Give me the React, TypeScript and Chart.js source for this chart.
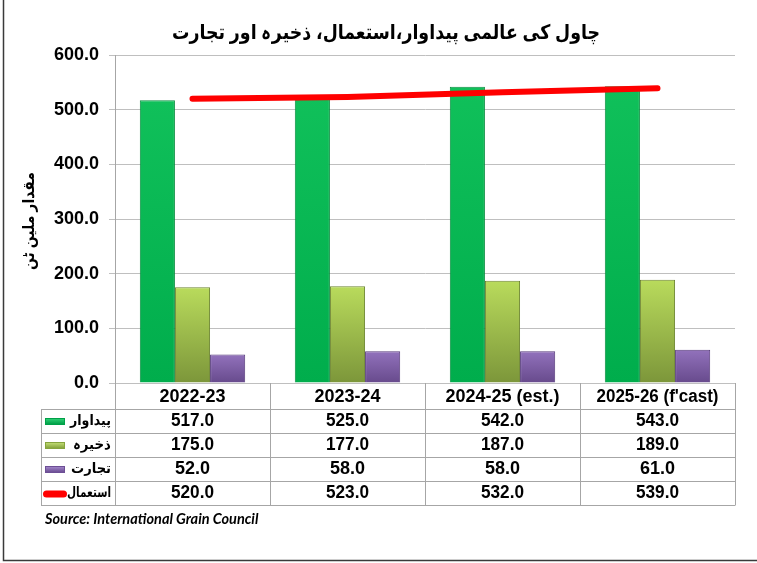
import React, { useEffect, useRef } from "react";
import { Chart, registerables } from "chart.js";

Chart.register(...registerables);

const title = "چاول کی عالمی پیداوار،استعمال، ذخیرہ اور تجارت";
const yTitle = "مقدار ملین ٹن";
const source = "Source: International Grain Council";
const categories = ["2022-23", "2023-24", "2024-25 (est.)", "2025-26 (f'cast)"];
const seriesNames = ["پیداوار", "ذخیرہ", "تجارت", "استعمال"];
const production = [517, 525, 542, 543];
const stocks = [175, 177, 187, 189];
const trade = [52, 58, 58, 61];
const consumption = [520, 523, 532, 539];

const FONT = "Arial, 'Liberation Sans', 'DejaVu Sans', sans-serif";
const URDU = "Arial, 'DejaVu Sans', sans-serif";

function barGradient(top: string, bottom: string) {
  return (ctx: any) => {
    const chart = ctx.chart;
    const area = chart.chartArea;
    if (!area || ctx.type !== "data") return bottom;
    const y = chart.scales.y;
    const v = ctx.parsed ? ctx.parsed.y : 0;
    const y0 = y.getPixelForValue(v);
    const y1 = y.getPixelForValue(0);
    if (!isFinite(y0) || !isFinite(y1) || y0 === y1) return bottom;
    const g = chart.ctx.createLinearGradient(0, y0, 0, y1);
    g.addColorStop(0, top);
    g.addColorStop(1, bottom);
    return g;
  };
}

const tablePlugin = {
  id: "tablePlugin",
  afterDraw(chart: any) {
    const { ctx } = chart;
    const x = chart.scales.x;
    const area = chart.chartArea;
    const left = area.left;
    const right = area.right;
    const tableLeft = 41;
    const rowLines = [409, 433, 457, 481, 505];
    const rowCenters = [421, 445, 469, 493];
    const headerCenter = 397;
    const n = categories.length;
    const colW = (right - left) / n;
    ctx.save();

    // title
    ctx.fillStyle = "#000";
    ctx.textAlign = "center";
    ctx.textBaseline = "middle";
    ctx.font = "bold 20px " + URDU;
    ctx.fillText(title, 386, 33, 428);

    // y title
    ctx.save();
    ctx.translate(30, 221);
    ctx.rotate(-Math.PI / 2);
    ctx.font = "bold 16px " + URDU;
    ctx.fillText(yTitle, 0, 0, 98);
    ctx.restore();

    // table lines
    ctx.strokeStyle = "#a6a6a6";
    ctx.lineWidth = 1;
    ctx.beginPath();
    for (const ly of rowLines) {
      ctx.moveTo(tableLeft, ly + 0.5);
      ctx.lineTo(right, ly + 0.5);
    }
    for (let i = 0; i <= n; i++) {
      const lx = Math.round(left + colW * i) + 0.5;
      ctx.moveTo(lx, area.bottom);
      ctx.lineTo(lx, rowLines[rowLines.length - 1] + 0.5);
    }
    ctx.moveTo(tableLeft + 0.5, rowLines[0]);
    ctx.lineTo(tableLeft + 0.5, rowLines[rowLines.length - 1] + 0.5);
    ctx.stroke();

    // header labels
    ctx.fillStyle = "#000";
    ctx.font = "bold 18px " + FONT;
    categories.forEach((c, i) => {
      ctx.fillText(c, x.getPixelForValue(i), headerCenter, 122);
    });

    // rows
    const rows = [production, stocks, trade, consumption];
    rows.forEach((vals, r) => {
      ctx.font = "bold 18px " + FONT;
      ctx.textAlign = "center";
      vals.forEach((v, i) => {
        ctx.fillText(v.toFixed(1), x.getPixelForValue(i), rowCenters[r], 43);
      });
    });

    // legend keys
    const keyColors = [
      ["#35d67a", "#00a048"],
      ["#c8e37a", "#86a43e"],
      ["#a88cd0", "#6d4f95"],
    ];
    for (let r = 0; r < 3; r++) {
      const cy = rowCenters[r];
      const g = ctx.createLinearGradient(0, cy - 3, 0, cy + 3);
      g.addColorStop(0, keyColors[r][0]);
      g.addColorStop(1, keyColors[r][1]);
      ctx.fillStyle = g;
      ctx.fillRect(45, cy - 3, 20, 7);
      ctx.strokeStyle = keyColors[r][1];
      ctx.strokeRect(45.5, cy - 2.5, 19, 6);
    }
    ctx.strokeStyle = "#ff0000";
    ctx.lineWidth = 7;
    ctx.lineCap = "round";
    ctx.beginPath();
    ctx.moveTo(46.5, rowCenters[3] + 1);
    ctx.lineTo(63.5, rowCenters[3] + 1);
    ctx.stroke();

    ctx.fillStyle = "#000";
    ctx.textAlign = "right";
    ctx.font = "bold 14px " + URDU;
    const maxW = [41, 38, 40, 44];
    seriesNames.forEach((s, r) => {
      ctx.fillText(s, 111, rowCenters[r], maxW[r]);
    });

    // source
    ctx.textAlign = "left";
    ctx.font = "italic bold 14.5px Lato, 'Open Sans', sans-serif";
    ctx.fillText(source, 45, 519);

    // outer border
    ctx.strokeStyle = "#3a3a3a";
    ctx.lineWidth = 1.5;
    ctx.lineCap = "butt";
    ctx.beginPath();
    ctx.moveTo(3.5, 0);
    ctx.lineTo(3.5, 560.5);
    ctx.lineTo(757, 560.5);
    ctx.stroke();

    ctx.restore();
  },
};

export default function App() {
  const ref = useRef<HTMLCanvasElement | null>(null);
  useEffect(() => {
    if (!ref.current) return;
    const chart = new Chart(ref.current, {
      type: "bar",
      data: {
        labels: categories,
        datasets: [
          {
            type: "line",
            label: seriesNames[3],
            data: consumption,
            borderColor: "#ff0000",
            borderWidth: 6,
            borderCapStyle: "round",
            pointRadius: 0,
            tension: 0,
            fill: false,
            order: 0,
          } as any,
          {
            label: seriesNames[0],
            data: production,
            backgroundColor: barGradient("#10c05a", "#00ad4c"),
            borderColor: "#0a8f40",
            borderWidth: 1,
            order: 1,
            categoryPercentage: 0.68,
            barPercentage: 1,
          },
          {
            label: seriesNames[1],
            data: stocks,
            backgroundColor: barGradient("#b9db5c", "#7c963a"),
            borderColor: "#6d8530",
            borderWidth: 1,
            order: 1,
            categoryPercentage: 0.68,
            barPercentage: 1,
          },
          {
            label: seriesNames[2],
            data: trade,
            backgroundColor: barGradient("#9272bc", "#674a8c"),
            borderColor: "#55397a",
            borderWidth: 1,
            order: 1,
            categoryPercentage: 0.68,
            barPercentage: 1,
          },
        ],
      },
      options: {
        responsive: false,
        animation: false,
        devicePixelRatio: 1,
        layout: { padding: { top: 55, right: 22, left: 0, bottom: 0 } },
        plugins: {
          legend: { display: false },
          title: { display: false },
          tooltip: { enabled: false },
        },
        scales: {
          x: {
            type: "category",
            grid: { display: false },
            border: { display: false },
            ticks: { display: false },
            afterFit: (s: any) => {
              s.height = 180;
            },
          },
          y: {
            min: 0,
            max: 600,
            ticks: {
              stepSize: 100,
              callback: (v: any) => Number(v).toFixed(1),
              color: "#000",
              font: { family: FONT, size: 18, weight: "bold" },
              padding: 10,
            },
            grid: { color: "#bfbfbf", tickLength: 6, lineWidth: 1 },
            border: { color: "#a6a6a6" },
            afterFit: (s: any) => {
              s.width = 115;
            },
          },
        },
      },
      plugins: [tablePlugin],
    });
    return () => chart.destroy();
  }, []);
  return (
    <div style={{ position: "absolute", left: 0, top: 0, width: 757, height: 563, background: "#fff" }}>
      <canvas ref={ref} width={757} height={563} style={{ display: "block" }} />
    </div>
  );
}
